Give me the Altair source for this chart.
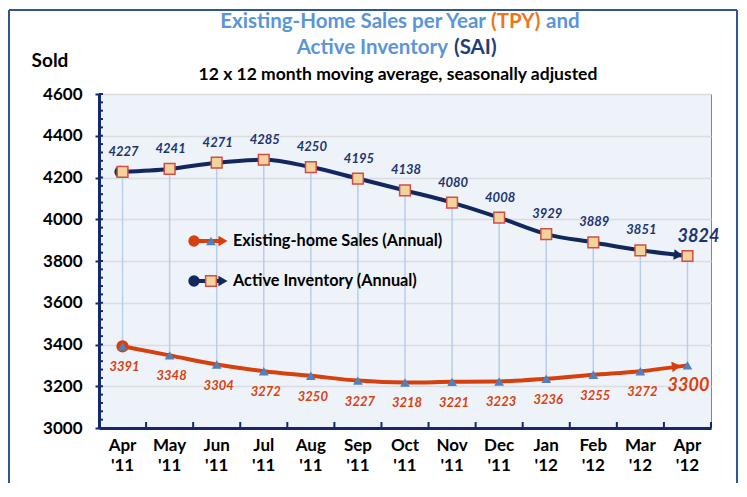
import altair as alt
import pandas as pd

# ---------------- data ----------------
months = ["Apr '11", "May '11", "Jun '11", "Jul '11", "Aug '11", "Sep '11", "Oct '11",
          "Nov '11", "Dec '11", "Jan '12", "Feb '12", "Mar '12", "Apr '12"]
sales = [3391, 3348, 3304, 3272, 3250, 3227, 3218, 3221, 3223, 3236, 3255, 3272, 3300]
inventory = [4227, 4241, 4271, 4285, 4250, 4195, 4138, 4080, 4008, 3929, 3889, 3851, 3824]
y_ticks = [3000, 3200, 3400, 3600, 3800, 4000, 4200, 4400, 4600]
y_minor_ticks = list(range(3000, 4601, 40))

title_line1 = ["Existing-Home Sales per Year", "(TPY)", "and"]
title_line2 = ["Active Inventory", "(SAI)"]
subtitle = "12 x 12 month moving average, seasonally adjusted"
y_title = "Sold"
legend_sales = "Existing-home Sales (Annual)"
legend_inv = "Active Inventory (Annual)"

# ---------------- style ----------------
FONT = "Lato"
NAVY = "#12275E"
AXIS_NAVY = "#14296A"
RED = "#D6400E"
RED_LABEL = "#D9410F"
INV_LABEL = "#1C3570"
TRI = "#4F81BD"
SQ_FILL = "#F3D39C"
SQ_STROKE = "#CF4F48"
DROP = "#B9CDEA"
LIGHT_BLUE = "#5A95D8"
ORANGE = "#E8771E"
FRAME = "#2F5597"
W, H = 612, 334

df = pd.DataFrame({"month": months, "sales": sales, "inventory": inventory})
one = pd.DataFrame({"k": [0]})
last = months[-1]
first = months[0]

xscale = alt.Scale(type="band", domain=months, paddingInner=0, paddingOuter=0)
yscale = alt.Scale(domain=[3000, 4600], nice=False, zero=False)

x_axis = alt.Axis(title=None, labelAngle=0, labelExpr="split(datum.label, ' ')",
                  ticks=False, grid=False, domainColor=AXIS_NAVY, domainWidth=3,
                  labelFont=FONT, labelFontSize=17, labelFontWeight="bold",
                  labelColor="black", labelLineHeight=20, labelPadding=9)
y_axis = alt.Axis(values=y_ticks, title=None, grid=True, gridColor="#D9DCE1",
                  gridWidth=1.5, domainColor=AXIS_NAVY, domainWidth=3,
                  tickColor=AXIS_NAVY, tickWidth=2, tickSize=4, format="d",
                  labelFont=FONT, labelFontSize=17, labelFontWeight="bold",
                  labelColor="black", labelPadding=13)

X = alt.X("month:N", sort=months, scale=xscale, axis=x_axis)
Y_inv = alt.Y("inventory:Q", scale=yscale, axis=y_axis)
Y_sales = alt.Y("sales:Q", scale=yscale, axis=y_axis)

base = alt.Chart(df)
leg = alt.Chart(one)
layers = []

# outer frame (left, right, top)
layers.append(leg.mark_rule(color=FRAME, strokeWidth=2).encode(
    x=alt.value(-90), y=alt.value(-84), y2=alt.value(H + 200)))
layers.append(leg.mark_rule(color=FRAME, strokeWidth=2).encode(
    x=alt.value(638), y=alt.value(-84), y2=alt.value(H + 200)))
layers.append(leg.mark_rule(color=FRAME, strokeWidth=2).encode(
    x=alt.value(-90), x2=alt.value(638), y=alt.value(-84)))

# drop lines
layers.append(base.mark_rule(color=DROP, strokeWidth=1.5).encode(x=X, y=Y_inv, y2="sales:Q"))

# x ticks at band boundaries (pointing up)
layers.append(base.mark_rule(color=AXIS_NAVY, strokeWidth=2).encode(
    x=alt.X("month:N", sort=months, scale=xscale, axis=x_axis, bandPosition=1),
    y=alt.value(H), y2=alt.value(H - 6)))

# minor y ticks (inside)
layers.append(alt.Chart(pd.DataFrame({"t": y_minor_ticks})).mark_rule(
    color=AXIS_NAVY, strokeWidth=2).encode(
    y=alt.Y("t:Q", scale=yscale, axis=y_axis), x=alt.value(0), x2=alt.value(4)))

# lines
layers.append(base.mark_line(color=RED, strokeWidth=4, interpolate="monotone").encode(x=X, y=Y_sales))
layers.append(base.mark_line(color=NAVY, strokeWidth=4, interpolate="monotone").encode(x=X, y=Y_inv))

# start circles
layers.append(base.transform_filter(alt.datum.month == first).mark_point(
    shape="circle", filled=True, size=150, color=RED, opacity=1).encode(x=X, y=Y_sales))
layers.append(base.transform_filter(alt.datum.month == first).mark_point(
    shape="circle", filled=True, size=150, color=NAVY, opacity=1, xOffset=-2).encode(x=X, y=Y_inv))

# arrow heads
layers.append(base.transform_filter(alt.datum.month == last).mark_point(
    shape="triangle-right", filled=True, size=110, color=RED, opacity=1, angle=353,
    xOffset=-11, yOffset=1).encode(x=X, y=Y_sales))
layers.append(base.transform_filter(alt.datum.month == last).mark_point(
    shape="triangle-right", filled=True, size=110, color=NAVY, opacity=1, angle=7,
    xOffset=-9, yOffset=-1).encode(x=X, y=Y_inv))

# markers
layers.append(base.mark_point(shape="triangle-up", filled=True, size=95, color=TRI, opacity=1).encode(x=X, y=Y_sales))
layers.append(base.mark_square(size=115, color=SQ_FILL, stroke=SQ_STROKE, strokeWidth=1.5, opacity=1).encode(x=X, y=Y_inv))

# value labels
layers.append(base.transform_filter(alt.datum.month != last).mark_text(
    dy=-20, dx=1, font=FONT, fontStyle="italic", fontWeight="bold", fontSize=13, color=INV_LABEL).encode(
    x=X, y=Y_inv, text=alt.Text("inventory:Q", format="d")))
layers.append(base.transform_filter(alt.datum.month == last).mark_text(
    dy=-19, dx=11, font=FONT, fontStyle="italic", fontWeight="bold", fontSize=18, color=INV_LABEL).encode(
    x=X, y=Y_inv, text=alt.Text("inventory:Q", format="d")))
layers.append(base.transform_filter(alt.datum.month != last).mark_text(
    dy=21, dx=2, font=FONT, fontStyle="italic", fontWeight="bold", fontSize=13, color=RED_LABEL).encode(
    x=X, y=Y_sales, text=alt.Text("sales:Q", format="d")))
layers.append(base.transform_filter(alt.datum.month == last).mark_text(
    dy=21, dx=1, font=FONT, fontStyle="italic", fontWeight="bold", fontSize=18, color=RED_LABEL).encode(
    x=X, y=Y_sales, text=alt.Text("sales:Q", format="d")))

# in-plot legend
for ly, col, marker in [(147, RED, "tri"), (187, NAVY, "sq")]:
    layers.append(leg.mark_rule(color=col, strokeWidth=4).encode(
        x=alt.value(95), x2=alt.value(122), y=alt.value(ly)))
    layers.append(leg.mark_point(shape="circle", filled=True, size=130, color=col, opacity=1).encode(
        x=alt.value(95), y=alt.value(ly)))
    layers.append(leg.mark_point(shape="triangle-right", filled=True, size=110, color=col, opacity=1).encode(
        x=alt.value(124), y=alt.value(ly)))
    if marker == "tri":
        layers.append(leg.mark_point(shape="triangle-up", filled=True, size=95, color=TRI, opacity=1).encode(
            x=alt.value(112), y=alt.value(ly)))
    else:
        layers.append(leg.mark_square(size=115, color=SQ_FILL, stroke=SQ_STROKE, strokeWidth=1.5, opacity=1).encode(
            x=alt.value(112), y=alt.value(ly)))


def txt(s, x, y, size, color, align="center"):
    return leg.mark_text(text=s, font=FONT, fontWeight="bold", fontSize=size, color=color,
                         align=align, baseline="middle").encode(x=alt.value(x), y=alt.value(y))


layers.append(txt(legend_sales, 134, 147, 16.3, "black", "left"))
layers.append(txt(legend_inv, 134, 187, 16.3, "black", "left"))

# titles
layers.append(txt(title_line1[0], 387, -72, 20.5, LIGHT_BLUE, "right"))
layers.append(txt(title_line1[1], 392, -72, 20.5, ORANGE, "left"))
layers.append(txt(title_line1[2], 447, -72, 20.5, LIGHT_BLUE, "left"))
layers.append(txt(title_line2[0], 349, -46, 20.5, LIGHT_BLUE, "right"))
layers.append(txt(title_line2[1], 355, -46, 20.5, "#1F3E78", "left"))
layers.append(txt(subtitle, 299, -19, 17.5, "black"))
layers.append(txt(y_title, -49, -33, 19, "black"))

chart = alt.layer(*layers).properties(
    width=W, height=H,
    autosize=alt.AutoSizeParams(type="none"),
    padding={"left": 91, "top": 86, "right": 28, "bottom": 55},
    background="white",
).configure_view(fill="#EEF3F9", stroke="#5A8CD2", strokeWidth=1)

chart.save("out.html", embed_options={"renderer": "svg", "actions": False})
